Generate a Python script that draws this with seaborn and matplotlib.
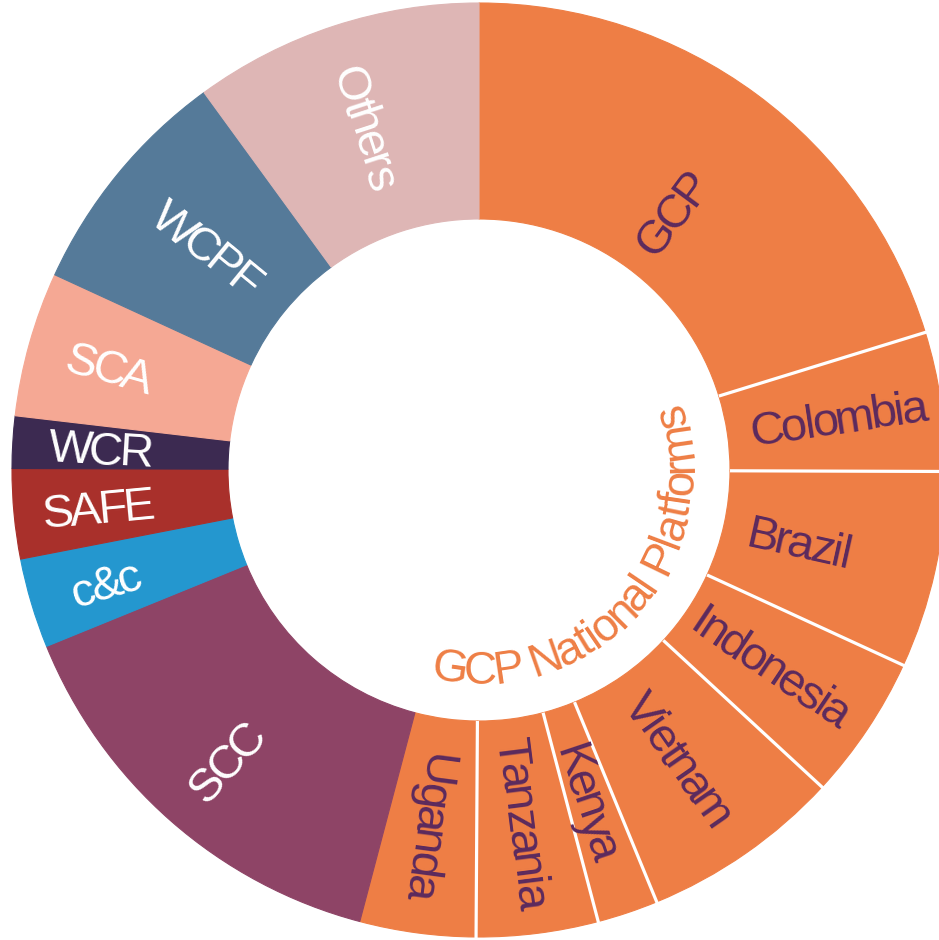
import numpy as np
import matplotlib
matplotlib.use("Agg")
import matplotlib.pyplot as plt
import seaborn as sns
from matplotlib import font_manager
from matplotlib.ft2font import FT2Font

segments = ["GCP", "Colombia", "Brazil", "Indonesia", "Vietnam", "Kenya", "Tanzania", "Uganda",
            "SCC", "c&c", "SAFE", "WCR", "SCA", "WCPF", "Others"]
shares = [20.2, 4.8, 6.8, 5.0, 6.9, 2.1, 4.2, 4.0,
          14.7, 3.1, 3.1, 1.8, 5.0, 8.1, 10.0]
is_gcp = [True] * 8 + [False] * 7
group_label = "GCP National Platforms"

# colours
orange = "#EE7E45"
other_colors = ["#8E4466", "#2497CF", "#A9302B", "#3C2A51", "#F5A894", "#557A99", "#DEB6B5"]
colors = [orange] * 8 + other_colors
dark_text = "#5B2A5E"

# radial position of each label (fraction of outer radius)
label_r = [0.69, 0.78, 0.705, 0.755, 0.755, 0.75, 0.765, 0.775,
           0.825, 0.835, 0.82, 0.81, 0.82, 0.75, 0.77]

sns.set_style("white")
plt.rcParams["font.family"] = ["Liberation Sans", "DejaVu Sans"]

fig = plt.figure(figsize=(9.39, 9.40), dpi=100)
ax = fig.add_axes([0, 0, 1, 1])
PX = 467.0  # pixels per data unit (outer radius)

ring = 0.4625
wedges, _ = ax.pie(shares, colors=colors, startangle=90, counterclock=False, radius=1,
                   wedgeprops=dict(width=ring, linewidth=0.8))
for w in wedges:
    w.set_edgecolor(w.get_facecolor())

# white separators only between the national platform slices
r_in = 1 - ring
for i in range(len(wedges) - 1):
    if is_gcp[i] and is_gcp[i + 1]:
        a = np.deg2rad(wedges[i].theta1)
        ax.plot([r_in * np.cos(a), 1.02 * np.cos(a)], [r_in * np.sin(a), 1.02 * np.sin(a)],
                color="white", lw=2.3, solid_capstyle="butt", zorder=3)

font = FT2Font(font_manager.findfont(font_manager.FontProperties(family="Liberation Sans")))


def advances(s, size, track):
    font.set_size(size, 100)
    return [font.load_char(ord(c)).linearHoriAdvance / 65536.0 * track for c in s]


def tight_text(x0, y0, s, rot, size, color, track=0.88):
    # text with tight letter spacing, centred on (x0, y0)
    adv = advances(s, size, track)
    total = sum(adv)
    t = np.deg2rad(rot)
    ux, uy = np.cos(t), np.sin(t)
    px, py = -uy, ux
    cap = 0.716 * size * 100 / 72
    pos = 0.0
    for c, a in zip(s, adv):
        d = -total / 2 + pos + a / 2
        pos += a
        if c == " ":
            continue
        bx = x0 + (ux * d - px * cap / 2) / PX
        by = y0 + (uy * d - py * cap / 2) / PX
        ax.text(bx, by, c, rotation=rot, rotation_mode="anchor", ha="center", va="baseline",
                fontsize=size, color=color, zorder=4)


# radial labels
for w, name, r, gcp in zip(wedges, segments, label_r, is_gcp):
    mid = (w.theta1 + w.theta2) / 2
    mid = (mid + 180) % 360 - 180
    rot = mid
    if not gcp and np.cos(np.deg2rad(mid)) < 0:
        rot = mid + 180 if mid < 0 else mid - 180
    a = np.deg2rad(mid)
    tight_text(r * np.cos(a), r * np.sin(a), name, rot, 34, dark_text if gcp else "white")

# curved group label inside the hole
fsize = 33
adv = advances(group_label, fsize, 0.93)
total = sum(adv)
r_base = 0.458
r_px = r_base * PX
theta0 = np.deg2rad(-42.0) - total / (2 * r_px)
pos = 0.0
for c, w_px in zip(group_label, adv):
    th = theta0 + (pos + w_px / 2) / r_px
    pos += w_px
    if c == " ":
        continue
    ax.text(r_base * np.cos(th), r_base * np.sin(th), c, rotation=np.rad2deg(th) + 90,
            rotation_mode="anchor", ha="center", va="baseline", fontsize=fsize,
            color=orange, zorder=4)

ax.set_aspect("auto")
ax.set_xlim(-479 / PX, (939 - 479) / PX)
ax.set_ylim(-470 / PX, (940 - 470) / PX)
ax.axis("off")

fig.savefig("out.png", dpi=100, facecolor="white")
